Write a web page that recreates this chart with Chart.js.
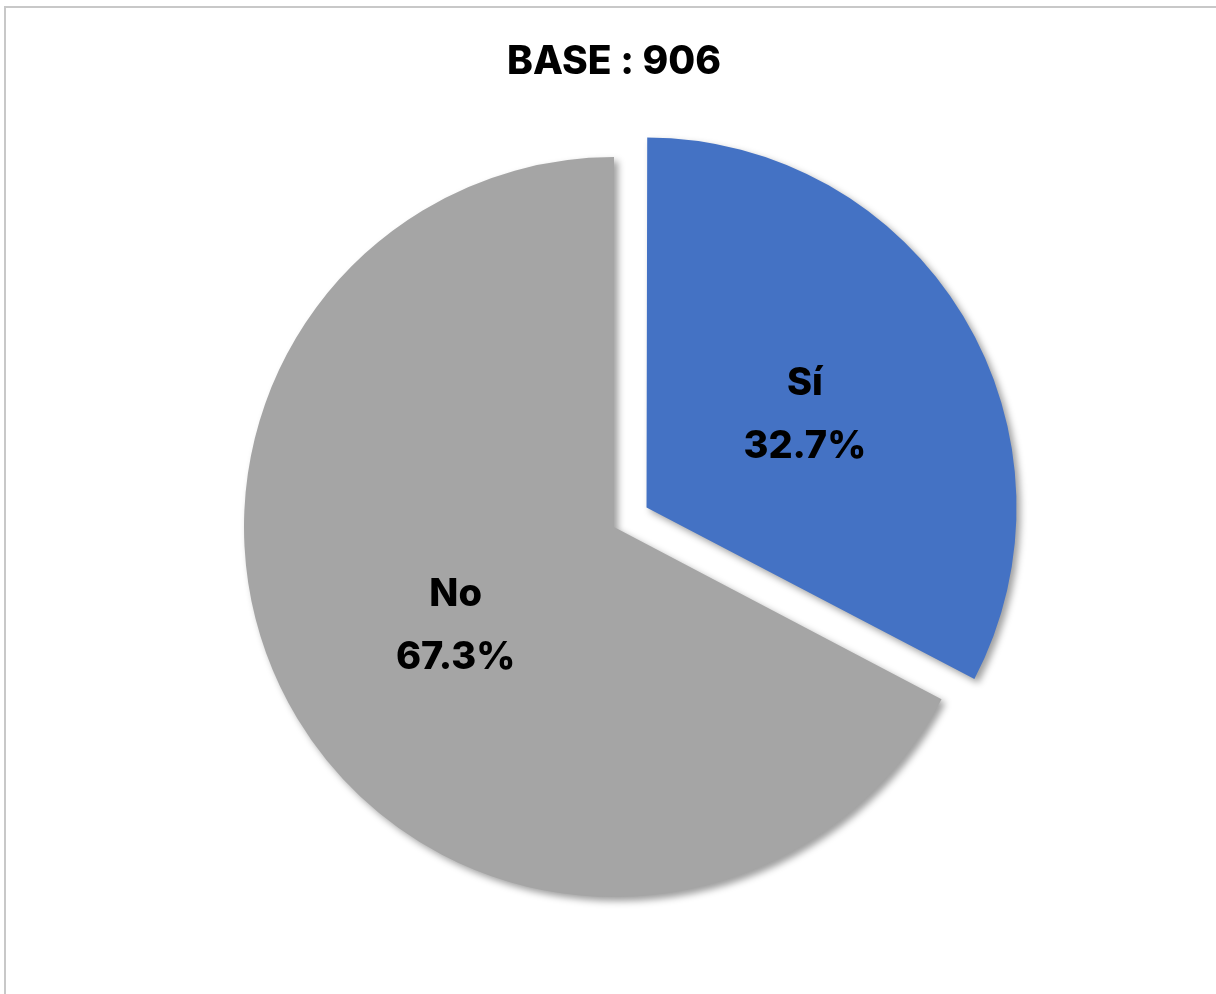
<!DOCTYPE html>
<html>
<head>
<meta charset="utf-8">
<script src="https://cdn.jsdelivr.net/npm/chart.js@4/dist/chart.umd.min.js"></script>
<style>
  html, body { margin: 0; padding: 0; background: #ffffff; overflow: hidden; }
  #frame { position: absolute; left: 4px; top: 6px; width: 1300px; height: 1100px; border: 2px solid #c8c8c8; box-sizing: border-box; }
  #wrap { position: absolute; left: 0; top: 0; width: 1216px; height: 994px; }
</style>
</head>
<body>
<div id="frame"></div>
<div id="wrap"><canvas id="c" width="1216" height="994"></canvas></div>
<script>
const titleText = 'BASE : 906';
const categories = ['Sí', 'No'];
const values = [32.7, 67.3];
const valueLabels = ['32.7%', '67.3%'];

const sliceColors = ['#4472C4', '#A5A5A5'];
// pixel distance each slice is pulled out from the centre
const explode = [38, 0];
const PIE_RADIUS = 370;
const FONT = "Inter, 'DejaVu Sans', sans-serif";

const shadowAndLabels = {
  id: 'shadowAndLabels',
  beforeDatasetsDraw(chart) {
    // Chart.js enlarges an exploded arc by offset*(1-sin(circumference)); undo it
    const meta = chart.getDatasetMeta(0);
    meta.data.forEach((arc, i) => {
      const c = arc.endAngle - arc.startAngle;
      const fix = 1 - Math.sin(Math.min(Math.PI, c));
      arc.outerRadius = PIE_RADIUS - (explode[i] || 0) * fix;
    });
    const ctx = chart.ctx;
    ctx.save();
    ctx.shadowColor = 'rgba(0,0,0,0.38)';
    ctx.shadowBlur = 7;
    ctx.shadowOffsetX = 4;
    ctx.shadowOffsetY = 4;
  },
  afterDatasetsDraw(chart) {
    const ctx = chart.ctx;
    ctx.restore();
    const meta = chart.getDatasetMeta(0);
    ctx.save();
    ctx.fillStyle = '#000000';
    ctx.font = "800 38px " + FONT;
    ctx.textAlign = 'center';
    ctx.textBaseline = 'alphabetic';
    meta.data.forEach((arc, i) => {
      const mid = (arc.startAngle + arc.endAngle) / 2;
      const r = (explode[i] || 0) + PIE_RADIUS * 0.5;
      const ax = arc.x + Math.cos(mid) * r;
      const ay = arc.y + Math.sin(mid) * r;
      ctx.fillText(categories[i], ax, ay - 17);
      ctx.fillText(valueLabels[i], ax, ay + 46);
    });
    ctx.restore();
  }
};

new Chart(document.getElementById('c'), {
  type: 'pie',
  data: {
    labels: categories,
    datasets: [{
      data: values,
      backgroundColor: sliceColors,
      borderWidth: 0,
      // Chart.js v4 translates an arc by offset / 4
      offset: explode.map(v => v * 4)
    }]
  },
  options: {
    responsive: false,
    animation: false,
    radius: PIE_RADIUS,
    layout: { padding: { left: 12, right: 0, top: 0, bottom: 25.6 } },
    plugins: {
      legend: { display: false },
      tooltip: { enabled: false },
      title: {
        display: true,
        text: titleText,
        color: '#000000',
        font: { family: FONT, size: 39, weight: '800', lineHeight: 1.2 },
        padding: { top: 39, bottom: 0 }
      }
    }
  },
  plugins: [shadowAndLabels]
});
</script>
</body>
</html>
